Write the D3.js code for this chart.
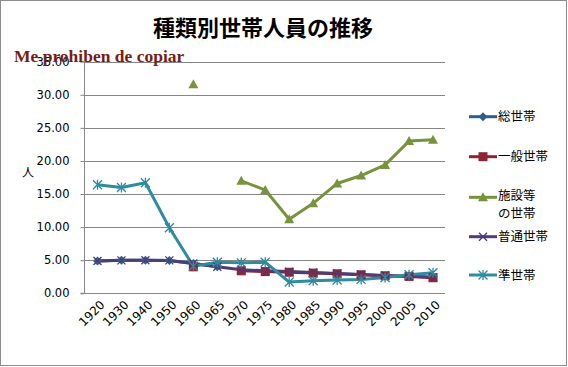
<!DOCTYPE html>
<html><head><meta charset="utf-8">
<script src="https://cdn.jsdelivr.net/npm/d3@7"></script>
<style>body{margin:0;background:#fff}svg{display:block}</style>
</head><body>
<script>
const years = ["1920","1930","1940","1950","1960","1965","1970","1975","1980","1985","1990","1995","2000","2005","2010"];
const total    = [4.89,4.98,4.99,4.97,4.50,4.02,null,null,null,null,null,null,null,null,null];
const general  = [null,null,null,null,4.00,null,3.40,3.28,3.18,3.05,2.95,2.80,2.65,2.55,2.35];
const facility = [null,null,null,null,31.6,null,17.0,15.6,11.2,13.6,16.6,17.8,19.4,23.0,23.2];
const ordinary = [4.89,4.98,4.99,4.97,4.50,4.02,3.55,3.40,3.28,3.15,3.00,2.85,2.70,2.58,2.45];
const quasi    = [16.4,16.0,16.7,9.9,4.1,4.7,4.6,4.7,1.7,1.9,2.0,2.1,2.4,2.8,3.1];
const yTicks = [0,5,10,15,20,25,30,35];
const seriesNames = ["総世帯","一般世帯","施設等\nの世帯","普通世帯","準世帯"];
const colors = ["#2C5F8A","#8E2431","#77933C","#4E3B78","#2E8BA0"];
const markers = ["diamond","square","triangle","x","star"];
const seriesData = [total,general,facility,ordinary,quasi];

const W=568,H=367;
const svg=d3.select("body").append("svg").attr("width",W).attr("height",H);
svg.append("rect").attr("x",0.5).attr("y",0.5).attr("width",W-2).attr("height",H-2).attr("fill","#fff").attr("stroke","#8c8c8c");

const x=d3.scaleBand().domain(years).range([85.5,445]);
const y=d3.scaleLinear().domain([0,35]).range([293.3,61.7]);
const cx=d=>x(d)+x.bandwidth()/2;

// grid
svg.append("g").selectAll("line").data(yTicks.filter(t=>t>0)).join("line")
  .attr("x1",84).attr("x2",445).attr("y1",d=>Math.round(y(d))+0.5).attr("y2",d=>Math.round(y(d))+0.5)
  .attr("stroke","#868686").attr("stroke-width",1);

// y axis
const yAxis=d3.axisLeft(y).tickValues(yTicks).tickFormat(d3.format(".2f")).tickSize(4).tickPadding(11);
const ga=svg.append("g").attr("transform","translate(84.5,0)").call(yAxis);
ga.select(".domain").attr("stroke","#868686").attr("d","M-4,61.7H0V293.3H-4");
ga.selectAll(".tick line").attr("stroke","#868686");
ga.selectAll("text").attr("font-family","'DejaVu Sans',sans-serif").attr("font-size",11.5).attr("fill","#000");

// x axis
const xAxis=d3.axisBottom(x).tickSize(0).tickPadding(0);
const gx=svg.append("g").attr("transform","translate(0,293.5)").call(xAxis);
gx.select(".domain").attr("stroke","#868686").attr("d","M84,0H445");
gx.selectAll("text").attr("font-family","'DejaVu Sans',sans-serif").attr("font-size",12).attr("fill","#000")
  .attr("text-anchor","end").attr("dy","0.35em")
  .attr("transform","translate(5,9) rotate(-45)");

// lines
const line=d3.line().defined(d=>d.v!=null).x(d=>cx(d.k)).y(d=>y(d.v));
seriesData.forEach((s,i)=>{
  const pts=years.map((k,j)=>({k,v:s[j]}));
  svg.append("path").datum(pts).attr("d",line).attr("fill","none")
    .attr("stroke",colors[i]).attr("stroke-width",3).attr("stroke-linejoin","round");
});

function drawMarker(g,type,c,px,py){
  if(type==="diamond") g.append("path").attr("d",`M${px},${py-4.5}L${px+4.5},${py}L${px},${py+4.5}L${px-4.5},${py}Z`).attr("fill",c);
  else if(type==="square") g.append("rect").attr("x",px-4.5).attr("y",py-4.5).attr("width",9).attr("height",9).attr("fill",c);
  else if(type==="triangle") g.append("path").attr("d",`M${px},${py-5}L${px+5},${py+4}L${px-5},${py+4}Z`).attr("fill",c);
  else if(type==="x") g.append("path").attr("d",`M${px-4},${py-4}L${px+4},${py+4}M${px-4},${py+4}L${px+4},${py-4}`).attr("stroke",c).attr("stroke-width",1.3);
  else if(type==="star") g.append("path").attr("d",`M${px-4.5},${py-4.5}L${px+4.5},${py+4.5}M${px-4.5},${py+4.5}L${px+4.5},${py-4.5}M${px},${py-5}L${px},${py+5}`).attr("stroke",c).attr("stroke-width",1.3);
}
seriesData.forEach((s,i)=>{
  const g=svg.append("g");
  years.forEach((k,j)=>{ if(s[j]!=null) drawMarker(g,markers[i],colors[i],cx(k),y(s[j])); });
});

// legend
const legY=[116.7,156.7,197.3,236.7,275];
seriesNames.forEach((n,i)=>{
  const g=svg.append("g");
  g.append("line").attr("x1",469).attr("x2",497).attr("y1",legY[i]).attr("y2",legY[i]).attr("stroke",colors[i]).attr("stroke-width",3);
  drawMarker(g,markers[i],colors[i],483,legY[i]);
  n.split("\n").forEach((p,k)=>{
    g.append("text").attr("x",498).attr("y",legY[i]+4.5-(k===0&&n.includes("\n")?2:0)+k*16.5)
      .attr("font-family","'Noto Sans CJK JP',sans-serif").attr("font-size",12.5).attr("fill","#000").text(p);
  });
});

// title
svg.append("text").attr("x",263).attr("y",36).attr("text-anchor","middle")
  .attr("font-family","'Noto Sans CJK JP',sans-serif").attr("font-weight","bold").attr("font-size",22).text("種類別世帯人員の推移");
svg.append("text").attr("x",28).attr("y",177).attr("text-anchor","middle")
  .attr("font-family","'Noto Sans CJK JP',sans-serif").attr("font-size",12).text("人");
svg.append("text").attr("x",14).attr("y",62)
  .attr("font-family","'Liberation Serif',serif").attr("font-weight","bold").attr("font-size",17.5).attr("fill","#7B1C12").text("Me prohiben de copiar");
</script>
</body></html>
